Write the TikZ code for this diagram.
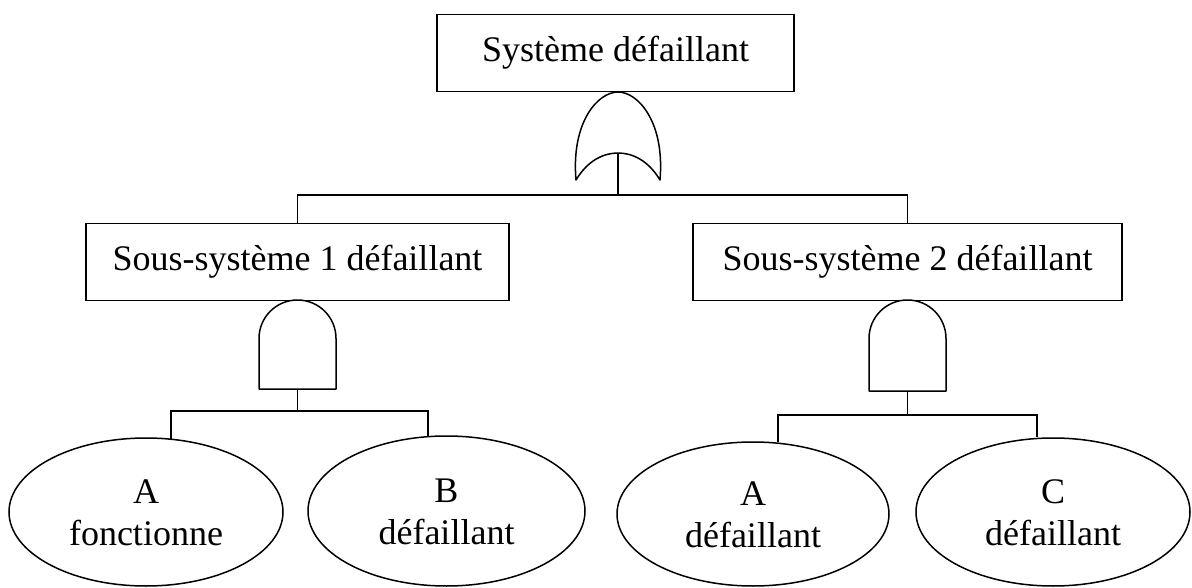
\documentclass[tikz,border=0pt]{standalone}
\usepackage{fontspec}
\setmainfont{Liberation Serif}
\usetikzlibrary{shapes.geometric}
% two-line label set slightly below the centre of its ellipse
\newcommand\twolines[2]{\raisebox{-4pt}[\height][\depth]{\begin{tabular}{@{}c@{}}#1\\#2\end{tabular}}}
\begin{document}
\begin{tikzpicture}[x=1pt,y=-1pt,
  every path/.style={line width=1.5pt},
  txt/.style={font=\fontsize{36}{42}\selectfont, inner sep=0pt, align=center},
  eventbox/.style={txt, draw, rectangle, minimum height=77},
  basic/.style={txt, draw, ellipse},
  gateshape/.style={draw, line join=round}
]
\useasboundingbox (0,0) rectangle (1192,588);

% events
\node[eventbox, minimum width=357] (top) at (615.5,53) {Système défaillant};
\node[eventbox, minimum width=423] (s1) at (297.5,262) {Sous-système 1 défaillant};
\node[eventbox, minimum width=429] (s2) at (907.5,262) {Sous-système 2 défaillant};

% basic events
\node[basic, minimum width=274, minimum height=148] (e1) at (146,512) {\twolines{A}{fonctionne}};
\node[basic, minimum width=277, minimum height=150] (e2) at (446.5,511) {\twolines{B}{défaillant}};
\node[basic, minimum width=272, minimum height=144] (e3) at (753,514) {\twolines{A}{défaillant}};
\node[basic, minimum width=274, minimum height=148] (e4) at (1053,512) {\twolines{C}{défaillant}};

% OR gate under the top event
\draw[gateshape] (576,180) .. controls (571,122) and (598,92) .. (618,92)
  .. controls (638,92) and (665,122) .. (660,180)
  .. controls (648,160) and (632,153) .. (618,153)
  .. controls (604,153) and (588,160) .. (576,180) -- cycle;
\coordinate (orout) at (618,153);
\coordinate (bus0) at (618,195);

% AND gate under sub-system 1
\draw[gateshape] (259,389) -- (259,338.5)
  .. controls (259,317.2) and (276.2,300) .. (297.5,300)
  .. controls (318.8,300) and (336,317.2) .. (336,338.5) -- (336,389) -- cycle;
\coordinate (g1out) at (297.5,389);
\coordinate (j1a) at (171,411);
\coordinate (j1b) at (428,411);

% AND gate under sub-system 2
\draw[gateshape] (869,391) -- (869,338.5)
  .. controls (869,317.2) and (886.2,300) .. (907.5,300)
  .. controls (928.8,300) and (946,317.2) .. (946,338.5) -- (946,391) -- cycle;
\coordinate (g2out) at (907.5,391);
\coordinate (j2a) at (778,415);
\coordinate (j2b) at (1037,415);

% connectors
\draw (orout) -- (bus0);
\draw (s1.north) -- (s1.north |- bus0) -- (s2.north |- bus0) -- (s2.north);

\draw (g1out) -- (g1out |- j1a);
\draw (j1a |- e1.71) -- (j1a) -- (j1b) -- (j1b |- e2.104);

\draw (g2out) -- (g2out |- j2a);
\draw (j2a |- e3.71) -- (j2a) -- (j2b) -- (j2b |- e4.97);
\end{tikzpicture}
\end{document}
